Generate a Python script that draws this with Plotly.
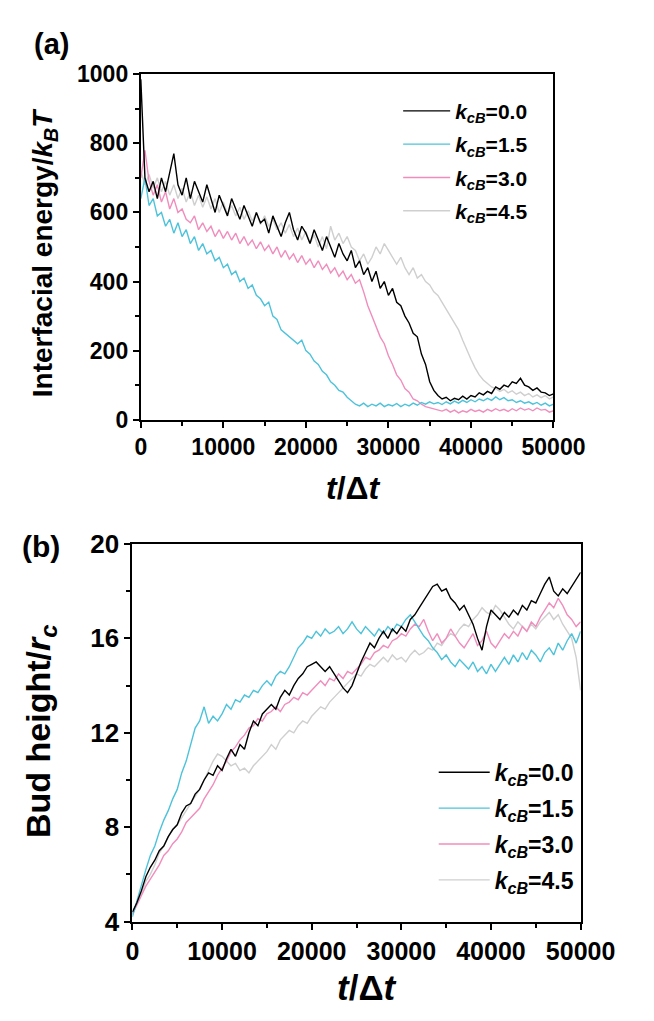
import plotly.graph_objects as go

W, H = 654, 1021

t = list(range(0, 50001, 500))

x_tick_vals = [0, 10000, 20000, 30000, 40000, 50000]
x_tick_text = ["0", "10000", "20000", "30000", "40000", "50000"]
ya_tick_vals = [0, 200, 400, 600, 800, 1000]
ya_tick_text = ["0", "200", "400", "600", "800", "1000"]
yb_tick_vals = [4, 8, 12, 16, 20]
yb_tick_text = ["4", "8", "12", "16", "20"]

# ---- panel (a): interfacial energy / kBT ----
ea_k00 = [985, 700, 660, 690, 640, 700, 660, 720, 770, 680, 650, 700, 640, 690, 660, 630, 680, 640, 600, 650,
          620, 590, 640, 610, 580, 620, 590, 560, 600, 570, 580, 540, 590, 560, 530, 570, 600, 550, 520, 560,
          540, 510, 550, 520, 490, 530, 500, 470, 510, 480, 460, 490, 440, 460, 420, 440, 400, 430, 380, 400,
          360, 380, 340, 330, 300, 280, 250, 240, 190, 160, 110, 85, 70, 60, 65, 55, 62, 58, 68, 60,
          70, 66, 78, 72, 82, 76, 95, 88, 100, 95, 110, 105, 120, 100, 95, 85, 92, 80, 78, 70, 75]
ea_k15 = [640, 700, 620, 640, 590, 600, 560, 580, 540, 570, 530, 550, 510, 530, 490, 510, 480, 490, 460, 470,
          440, 450, 420, 430, 400, 410, 380, 390, 360, 350, 330, 340, 300, 290, 260, 250, 240, 230, 220, 230,
          200, 190, 170, 160, 140, 130, 110, 100, 85, 80, 65, 55, 45, 40, 48, 38, 45, 40, 48, 38,
          44, 40, 47, 38, 45, 40, 48, 42, 50, 45, 52, 46, 50, 44, 52, 46, 54, 48, 56, 50,
          58, 52, 60, 55, 62, 56, 66, 58, 64, 55, 58, 50, 55, 48, 52, 45, 50, 42, 48, 40, 45]
ea_k30 = [700, 780, 690, 650, 680, 630, 660, 610, 640, 600, 610, 580, 570, 590, 550, 570, 545, 560, 530, 550,
          525, 545, 520, 540, 510, 530, 505, 520, 495, 515, 490, 505, 480, 500, 470, 490, 465, 480, 455, 475,
          450, 465, 440, 460, 435, 450, 425, 440, 415, 430, 405, 420, 395, 405, 370, 330, 300, 270, 240, 220,
          185, 160, 130, 115, 90, 80, 60, 55, 45, 38, 35, 30, 28, 25, 30, 22, 28, 20, 26, 22,
          30, 24, 28, 22, 30, 25, 32, 26, 30, 24, 32, 26, 34, 28, 32, 26, 34, 28, 30, 22, 26]
ea_k45 = [720, 680, 710, 670, 700, 660, 690, 650, 680, 640, 670, 630, 660, 620, 650, 615, 645, 610, 640, 600,
          630, 595, 620, 590, 615, 580, 605, 575, 600, 565, 590, 560, 580, 550, 570, 540, 565, 530, 555, 520,
          545, 510, 535, 500, 530, 495, 560, 520, 540, 510, 530, 500, 490, 460, 480, 450, 470, 500, 480, 510,
          490, 470, 450, 470, 440, 420, 440, 410, 420, 400, 390, 370, 360, 340, 320, 300, 280, 260, 230, 200,
          175, 150, 130, 115, 105, 95, 90, 82, 88, 78, 84, 74, 80, 70, 76, 66, 72, 64, 70, 60, 66]

# ---- panel (b): bud height / rc ----
hb_k00 = [4.4, 4.8, 5.3, 5.9, 6.3, 6.6, 7.0, 7.2, 7.6, 7.9, 8.1, 8.6, 8.9, 9.0, 9.4, 9.6, 10.0, 10.3, 10.2, 10.6,
          10.4, 10.9, 11.3, 11.0, 11.5, 11.3, 12.0, 12.5, 12.3, 12.8, 13.0, 13.2, 13.0, 13.5, 13.8, 13.6, 14.0, 14.3, 14.5, 14.8,
          14.9, 15.0, 14.8, 14.6, 14.8, 14.5, 14.2, 13.9, 13.7, 14.0, 14.5, 15.0, 15.4, 15.8, 15.6, 16.0, 16.3, 16.0, 16.4, 16.2,
          16.5, 16.3, 16.8, 17.0, 17.3, 17.6, 17.9, 18.2, 18.3, 18.0, 18.1, 17.7, 17.5, 17.2, 17.4, 17.0, 16.6, 16.0, 15.5, 16.5,
          17.2, 17.0, 16.8, 17.1, 16.9, 17.2, 17.0, 17.4, 17.2, 17.6, 17.5, 17.9, 18.3, 18.6, 18.0, 17.8, 18.1, 17.9, 18.2, 18.5, 18.8]
hb_k15 = [4.2, 4.9, 5.6, 6.2, 6.8, 7.2, 7.8, 8.3, 8.7, 9.2, 9.6, 10.3, 10.8, 11.5, 12.2, 12.5, 13.1, 12.4, 12.7, 12.5,
          12.8, 13.2, 13.0, 13.4, 13.3, 13.6, 13.5, 13.8, 13.7, 14.0, 14.2, 14.0, 14.4, 14.6, 14.5, 14.8, 15.2, 15.6, 15.8, 16.1,
          16.0, 16.3, 16.1, 16.4, 16.2, 16.3, 16.5, 16.2, 16.4, 16.7, 16.4, 16.2, 16.5, 16.3, 16.1, 16.4, 16.2, 16.5, 16.3, 16.6,
          16.5, 16.8, 17.0, 16.7, 16.4, 16.1, 15.9, 15.6, 15.4, 15.1, 15.3, 15.0, 14.8, 15.1, 14.9, 14.7, 15.0, 14.6, 14.8, 14.5,
          14.9, 14.6, 14.9, 15.2, 14.9, 15.3, 15.0, 15.4, 15.1, 15.5, 15.3, 15.0, 15.4, 15.6, 15.3, 15.8, 15.5, 15.9, 16.2, 15.8, 16.3]
hb_k30 = [4.3, 4.7, 5.1, 5.5, 5.8, 6.1, 6.4, 6.8, 7.0, 7.3, 7.5, 7.8, 8.2, 8.4, 8.6, 8.8, 9.2, 9.5, 9.8, 10.2,
          10.5, 10.8, 11.2, 11.4, 11.7, 11.9, 12.2, 12.3, 12.6, 12.5, 12.8, 12.9, 13.1, 12.9, 13.2, 13.3, 13.5, 13.4, 13.7, 13.6,
          13.8, 14.0, 14.2, 14.0, 14.3, 14.2, 14.5, 14.3, 14.6, 14.5, 14.7, 14.9, 15.2, 15.1, 15.4, 15.5, 15.7, 15.6, 15.9, 16.0,
          16.2, 16.1, 16.4, 16.6, 16.5, 16.8, 16.3, 15.9, 16.2, 15.8, 16.0, 16.4, 16.1, 15.8, 15.6, 15.9, 16.2, 15.7, 15.9, 16.3,
          15.8, 15.6, 15.9, 16.2, 16.0, 16.3, 16.1, 16.5, 16.3, 16.7, 16.5, 16.9, 17.2, 17.5, 17.3, 17.7, 17.4, 17.0, 16.8, 16.5, 16.7]
hb_k45 = [4.3, 4.8, 5.2, 5.7, 6.0, 6.4, 6.9, 7.2, 7.6, 7.9, 8.1, 8.4, 8.7, 9.0, 9.3, 9.6, 10.0, 10.4, 10.8, 11.1,
          11.0, 10.8, 10.6, 10.7, 10.4, 10.5, 10.3, 10.6, 10.8, 11.0, 11.2, 11.5, 11.3, 11.7, 11.9, 12.1, 12.0, 12.3, 12.5, 12.4,
          12.7, 12.9, 13.1, 13.0, 13.3, 13.5, 13.7, 13.9, 14.1, 14.3, 14.5, 14.4, 14.7, 14.9, 14.8, 15.0, 15.2, 15.0, 15.3, 15.1,
          15.2, 15.0, 15.3, 15.5, 15.3, 15.4, 15.6, 15.5, 15.8, 15.7, 16.0, 16.2, 16.1, 16.4, 16.6, 16.5, 16.8, 17.0, 17.3, 17.1,
          17.0, 17.4, 17.2, 16.9, 16.6, 16.4, 16.7, 16.5, 16.3, 16.6, 16.4, 16.7, 16.9, 17.1, 16.8, 17.0, 16.6, 16.3, 16.0, 15.2, 13.8]

labels = ["0.0", "1.5", "3.0", "4.5"]
colors = ["#000000", "#4cc3da", "#f08dbd", "#cfcfcf"]

FONT = "Arial, Liberation Sans, sans-serif"

def px(x):
    return x / W

def py(y):
    return 1 - y / H

fig = go.Figure()

series_a = [ea_k00, ea_k15, ea_k30, ea_k45]
series_b = [hb_k00, hb_k15, hb_k30, hb_k45]
draw_order = [3, 2, 1, 0]

for i in draw_order:
    fig.add_trace(go.Scatter(x=t, y=series_a[i], mode="lines",
                             line=dict(color=colors[i], width=1.4),
                             name="<i>k</i><sub><i>cB</i></sub>=" + labels[i],
                             legend="legend", legendrank=i + 1, legendgroup="a" + labels[i],
                             xaxis="x", yaxis="y"))
for i in draw_order:
    fig.add_trace(go.Scatter(x=t, y=series_b[i], mode="lines",
                             line=dict(color=colors[i], width=1.4),
                             name="<i>k</i><sub><i>cB</i></sub>=" + labels[i],
                             legend="legend2", legendrank=i + 1, legendgroup="b" + labels[i],
                             xaxis="x2", yaxis="y2"))

axis_common = dict(showline=True, linewidth=2, linecolor="black", mirror=True,
                   ticks="outside", ticklen=6, tickwidth=2, tickcolor="black",
                   showgrid=False, zeroline=False, tickmode="array")

fig.update_layout(
    width=W, height=H, margin=dict(l=0, r=0, t=0, b=0),
    paper_bgcolor="white", plot_bgcolor="white",
    font=dict(family=FONT, color="black"),
    xaxis=dict(domain=[px(143), px(584)], range=[0, 50000], anchor="y",
               tickvals=x_tick_vals, ticktext=x_tick_text,
               minor=dict(dtick=5000, ticks="outside", ticklen=4, tickwidth=2, tickcolor="black"),
               tickfont=dict(size=23, family=FONT, weight="bold"), **axis_common),
    yaxis=dict(domain=[py(417), py(61)], range=[0, 1000], anchor="x",
               tickvals=ya_tick_vals, ticktext=ya_tick_text,
               minor=dict(dtick=100, ticks="outside", ticklen=4, tickwidth=2, tickcolor="black"),
               tickfont=dict(size=23, family=FONT, weight="bold"), **axis_common),
    xaxis2=dict(domain=[px(134), px(613)], range=[0, 50000], anchor="y2",
                tickvals=x_tick_vals, ticktext=x_tick_text,
                minor=dict(dtick=5000, ticks="outside", ticklen=4, tickwidth=2, tickcolor="black"),
                tickfont=dict(size=25, family=FONT, weight="bold"), **axis_common),
    yaxis2=dict(domain=[py(934), py(545)], range=[4, 20], anchor="x2",
                tickvals=yb_tick_vals, ticktext=yb_tick_text,
                minor=dict(dtick=2, ticks="outside", ticklen=4, tickwidth=2, tickcolor="black"),
                tickfont=dict(size=26, family=FONT, weight="bold"), **axis_common),
    legend=dict(x=px(418), y=py(78), xanchor="left", yanchor="top",
                bgcolor="rgba(0,0,0,0)", borderwidth=0, itemwidth=47,
                font=dict(size=21, family=FONT, weight="bold"), tracegroupgap=3),
    legend2=dict(x=px(456), y=py(758), xanchor="left", yanchor="top",
                 bgcolor="rgba(0,0,0,0)", borderwidth=0, itemwidth=51,
                 font=dict(size=23, family=FONT, weight="bold"), tracegroupgap=3),
    showlegend=True,
)

ann = [
    dict(text="(a)", x=px(48), y=py(30), size=29),
    dict(text="(b)", x=px(36), y=py(548), size=30),
    dict(text="<i>t</i>/Δ<i>t</i>", x=px(370), y=py(487), size=32),
    dict(text="<i>t</i>/Δ<i>t</i>", x=px(385), y=py(1002), size=35),
]
for a in ann:
    fig.add_annotation(text=a["text"], x=a["x"], y=a["y"], xref="paper", yref="paper",
                       showarrow=False, xanchor="center", yanchor="middle",
                       font=dict(size=a["size"], family=FONT, weight="bold", color="black"))

fig.add_annotation(text="Interfacial energy/<i>k</i><sub><i>B</i></sub><i>T</i>",
                   x=px(40), y=py(245), xref="paper", yref="paper", textangle=-90,
                   showarrow=False, xanchor="center", yanchor="middle",
                   font=dict(size=28, family=FONT, weight="bold", color="black"))
fig.add_annotation(text="Bud height/<i>r</i><sub><i>c</i></sub>",
                   x=px(36), y=py(738), xref="paper", yref="paper", textangle=-90,
                   showarrow=False, xanchor="center", yanchor="middle",
                   font=dict(size=34, family=FONT, weight="bold", color="black"))

fig.write_html("out.html")
